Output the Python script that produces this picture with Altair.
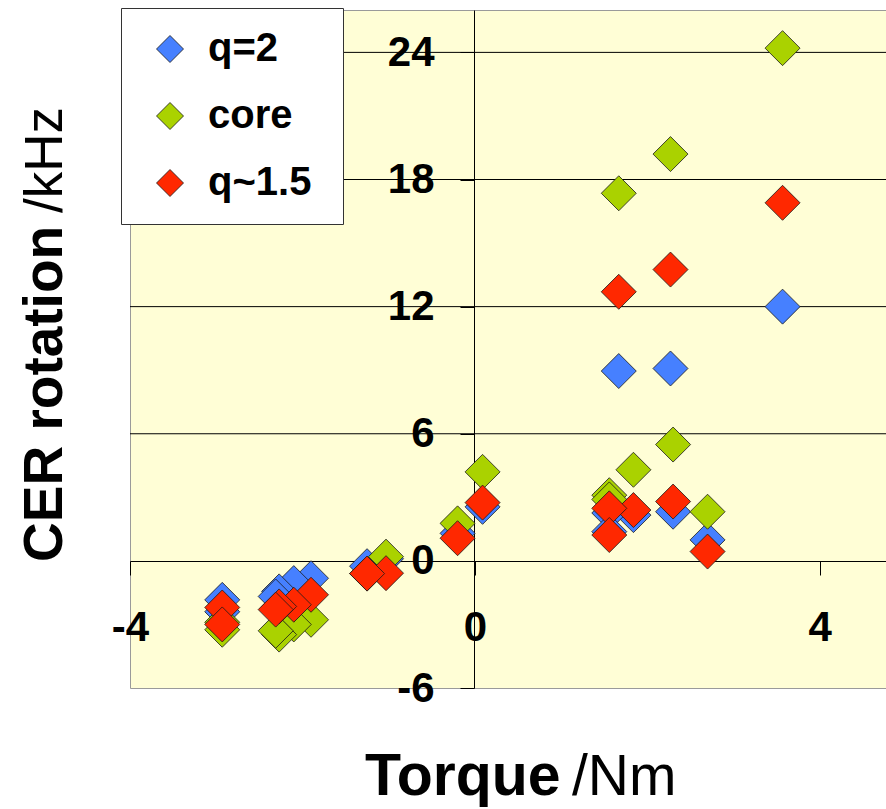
import altair as alt
import pandas as pd

# ---- data ----
torque = [3.57, 2.27, 1.67, 2.30, 1.84, 1.56, 1.56, 2.70, 0.09, -0.20,
          -1.03, -1.25, -1.90, -2.10, -2.27, -2.31, -2.93, -2.93]
q2 = [12.0, 9.08, 8.96, 2.32, 2.16, 2.26, 1.38, 0.99, 2.55, 1.30,
      0.10, -0.25, -0.82, -1.05, -1.44, -1.68, -1.84, -2.40]
core = [24.2, 19.2, 17.35, 5.49, 4.30, 3.10, 2.90, 2.32, 4.20, 1.77,
        0.20, -0.60, -2.78, -3.00, -3.48, -3.30, -2.90, -3.25]
q15 = [16.9, 13.75, 12.7, 2.80, 2.40, 2.48, 1.22, 0.44, 2.75, 1.07,
       -0.58, -0.60, -1.60, -2.07, -2.15, -2.30, -2.20, -3.00]

series_names = ["q=2", "core", "q~1.5"]
series_colors = ["#4680FF", "#AAD200", "#FF2800"]

x_ticks = [-4, 0, 4]
y_ticks = [-6, 0, 6, 12, 18, 24]
grid_values = [6, 12, 18, 24]

rows = []
for name, vals in zip(series_names, [q2, core, q15]):
    for t, v in zip(torque, vals):
        rows.append({"torque": t, "rotation": v, "series": name})
df = pd.DataFrame(rows)

FONT = "Liberation Sans"
W, H = 756, 678

xscale = alt.Scale(domain=[-4, 4.77], nice=False, zero=False)
yscale = alt.Scale(domain=[-6, 26], nice=False, zero=False)

x_axis = alt.Axis(values=x_ticks, offset=-127, grid=False,
                  domainColor="black", domainWidth=1,
                  tickColor="black", tickSize=14, tickWidth=1,
                  labelFontSize=42, labelFontWeight="bold",
                  labelFont=FONT, labelColor="black",
                  labelPadding=32, labelFlush=False,
                  labelOverlap=False, labelExpr="'' + datum.value")
y_axis = alt.Axis(values=y_ticks, offset=-344, grid=False,
                  domainColor="black", domainWidth=1,
                  tickColor="black", tickSize=14, tickWidth=1,
                  labelFontSize=42, labelFontWeight="bold",
                  labelFont=FONT, labelColor="black",
                  labelPadding=26, labelOverlap=False,
                  labelExpr="'' + datum.value")

grid = alt.Chart(pd.DataFrame({"rotation": grid_values})).mark_rule(
    color="black", strokeWidth=1
).encode(y=alt.Y("rotation:Q", scale=yscale, axis=y_axis, title=None))

points = alt.Chart(df).mark_point(
    shape="diamond", filled=True, size=1225, stroke="#1a1a1a",
    strokeWidth=0.8, opacity=1
).encode(
    x=alt.X("torque:Q", scale=xscale, title=None, axis=x_axis),
    y=alt.Y("rotation:Q", scale=yscale, title=None, axis=y_axis),
    color=alt.Color("series:N",
                    scale=alt.Scale(domain=series_names, range=series_colors),
                    sort=series_names,
                    legend=alt.Legend(title=None, orient="none",
                                      legendX=-9, legendY=-2,
                                      symbolType="diamond", symbolSize=729,
                                      symbolStrokeColor="#1a1a1a",
                                      symbolStrokeWidth=0.8,
                                      symbolOffset=8,
                                      labelFontSize=40, labelFontWeight="bold",
                                      labelFont=FONT, labelColor="black",
                                      labelOffset=18, rowPadding=27,
                                      padding=21,
                                      labelExpr="datum.label == 'core' ? datum.label + '\u2800' : datum.label",
                                      fillColor="white", strokeColor="#333333")),
)

def label(text, x, y, size, weight, angle=0, align="left"):
    return alt.Chart(pd.DataFrame({"t": [text]})).mark_text(
        font=FONT, fontSize=size, fontWeight=weight, color="black",
        align=align, baseline="alphabetic", angle=angle
    ).encode(text="t:N", x=alt.value(x), y=alt.value(y))

x_title_a = label("Torque", 235, 785, 59, "bold")
x_title_b = label("/Nm", 442, 785, 57, "normal")
y_title_a = label("CER rotation", -68, 552, 55, "bold", angle=270)
y_title_b = label("/kHz", -68, 203, 53, "normal", angle=270)

chart = alt.layer(grid, points, x_title_a, x_title_b, y_title_a, y_title_b).properties(
    width=W, height=H,
    autosize=alt.AutoSizeParams(type="none"),
    padding={"left": 130, "top": 10, "right": 0, "bottom": 121},
    background="white",
).configure_view(fill="#FFFED6", stroke="#9a9a9a", strokeWidth=1)

chart.save("out.html", embed_options={"renderer": "svg", "actions": False})
